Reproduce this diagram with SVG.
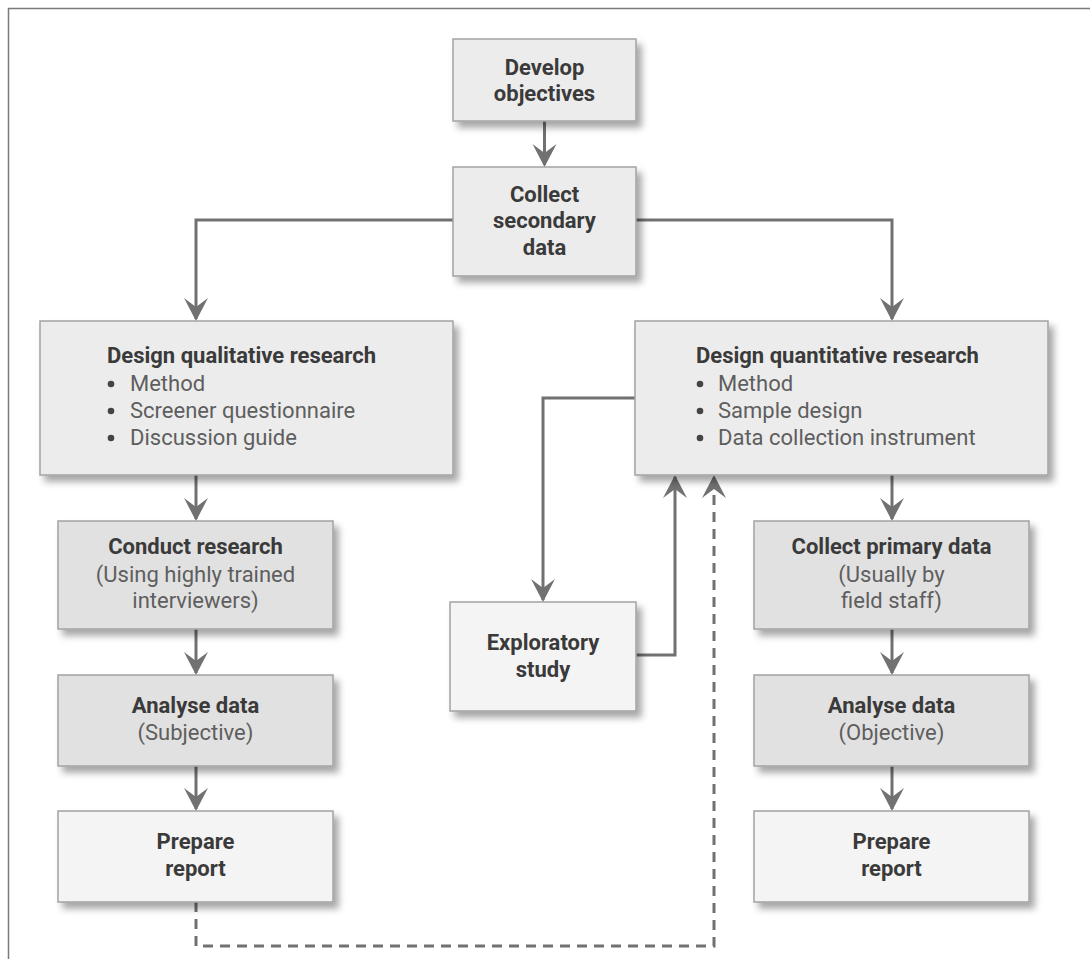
<svg xmlns="http://www.w3.org/2000/svg" width="1090" height="959" viewBox="0 0 1090 959">
<style>
.box{stroke:#a3a3a3;stroke-width:1.5}
.f1{fill:#ececec}
.f2{fill:#e1e1e1}
.f3{fill:#f4f4f4}
.t{font-family:Roboto,"Liberation Sans",sans-serif;font-size:22px;fill:#3a3a3a;font-weight:bold;text-anchor:middle}
.r{font-family:Roboto,"Liberation Sans",sans-serif;font-size:22px;fill:#5e5e5e;text-anchor:middle}
.tl{font-family:Roboto,"Liberation Sans",sans-serif;font-size:22px;fill:#3a3a3a;font-weight:bold}
.rl{font-family:Roboto,"Liberation Sans",sans-serif;font-size:22px;fill:#5e5e5e}
.bu{fill:#444}
.c{fill:none;stroke:#717171;stroke-width:3}
.d{fill:none;stroke:#717171;stroke-width:3;stroke-dasharray:10 7}
</style>
<defs>
<filter id="sh" x="-10%" y="-10%" width="130%" height="140%">
<feDropShadow dx="5" dy="6" stdDeviation="3.5" flood-color="#000" flood-opacity="0.35"/>
</filter>
<marker id="ah" markerUnits="userSpaceOnUse" viewBox="-26 -14 30 28" markerWidth="30" markerHeight="28" refX="-2" refY="0" orient="auto">
<path d="M0,0 L-23,-12 L-14,0 L-23,12 Z" fill="#717171"/>
</marker>
</defs>
<rect width="1090" height="959" fill="#fff"/>
<path d="M8.5,959 V8.5 H1090" fill="none" stroke="#7a7a7a" stroke-width="1.5"/>

<g id="connectors">
<path class="c" d="M544.5,121 V165" marker-end="url(#ah)"/>
<path class="c" d="M453,220 H196 V319" marker-end="url(#ah)"/>
<path class="c" d="M636,220 H892 V319" marker-end="url(#ah)"/>
<path class="c" d="M196,475 V519" marker-end="url(#ah)"/>
<path class="c" d="M196,629 V673" marker-end="url(#ah)"/>
<path class="c" d="M196,766 V809" marker-end="url(#ah)"/>
<path class="c" d="M892,475 V519" marker-end="url(#ah)"/>
<path class="c" d="M892,629 V673" marker-end="url(#ah)"/>
<path class="c" d="M892,766 V809" marker-end="url(#ah)"/>
<path class="c" d="M635,398 H543 V600" marker-end="url(#ah)"/>
<path class="c" d="M636,655 H675 V477" marker-end="url(#ah)"/>
<path class="d" d="M196,902 V946 H714 V477" marker-end="url(#ah)"/>
</g>

<g id="develop">
<rect class="box f1" x="453" y="39" width="183" height="82" filter="url(#sh)"/>
<text class="t" x="544.5" y="75">Develop</text>
<text class="t" x="544.5" y="101">objectives</text>
</g>

<g id="secondary">
<rect class="box f1" x="453" y="167" width="183" height="109" filter="url(#sh)"/>
<text class="t" x="544.5" y="202">Collect</text>
<text class="t" x="544.5" y="228">secondary</text>
<text class="t" x="544.5" y="255">data</text>
</g>

<g id="qualitative">
<rect class="box f1" x="40" y="321" width="413" height="154" filter="url(#sh)"/>
<text class="tl" x="107" y="363">Design qualitative research</text>
<circle class="bu" cx="111" cy="384" r="3.3"/><text class="rl" x="130" y="391">Method</text>
<circle class="bu" cx="111" cy="411" r="3.3"/><text class="rl" x="130" y="418">Screener questionnaire</text>
<circle class="bu" cx="111" cy="438" r="3.3"/><text class="rl" x="130" y="445">Discussion guide</text>
</g>

<g id="quantitative">
<rect class="box f1" x="635" y="321" width="413" height="154" filter="url(#sh)"/>
<text class="tl" x="696" y="363">Design quantitative research</text>
<circle class="bu" cx="700" cy="384" r="3.3"/><text class="rl" x="718" y="391">Method</text>
<circle class="bu" cx="700" cy="411" r="3.3"/><text class="rl" x="718" y="418">Sample design</text>
<circle class="bu" cx="700" cy="438" r="3.3"/><text class="rl" x="718" y="445">Data collection instrument</text>
</g>

<g id="conduct">
<rect class="box f2" x="58" y="521" width="275" height="108" filter="url(#sh)"/>
<text class="t" x="195.5" y="554">Conduct research</text>
<text class="r" x="195.5" y="582">(Using highly trained</text>
<text class="r" x="195.5" y="608">interviewers)</text>
</g>

<g id="analyse-left">
<rect class="box f2" x="58" y="675" width="275" height="91" filter="url(#sh)"/>
<text class="t" x="195.5" y="713">Analyse data</text>
<text class="r" x="195.5" y="740">(Subjective)</text>
</g>

<g id="report-left">
<rect class="box f3" x="58" y="811" width="275" height="91" filter="url(#sh)"/>
<text class="t" x="195.5" y="849">Prepare</text>
<text class="t" x="195.5" y="876">report</text>
</g>

<g id="exploratory">
<rect class="box f3" x="450" y="602" width="186" height="109" filter="url(#sh)"/>
<text class="t" x="543" y="650">Exploratory</text>
<text class="t" x="543" y="677">study</text>
</g>

<g id="primary">
<rect class="box f2" x="754" y="521" width="275" height="108" filter="url(#sh)"/>
<text class="t" x="891.5" y="554">Collect primary data</text>
<text class="r" x="891.5" y="582">(Usually by</text>
<text class="r" x="891.5" y="608">field staff)</text>
</g>

<g id="analyse-right">
<rect class="box f2" x="754" y="675" width="275" height="91" filter="url(#sh)"/>
<text class="t" x="891.5" y="713">Analyse data</text>
<text class="r" x="891.5" y="740">(Objective)</text>
</g>

<g id="report-right">
<rect class="box f3" x="754" y="811" width="275" height="91" filter="url(#sh)"/>
<text class="t" x="891.5" y="849">Prepare</text>
<text class="t" x="891.5" y="876">report</text>
</g>
</svg>
